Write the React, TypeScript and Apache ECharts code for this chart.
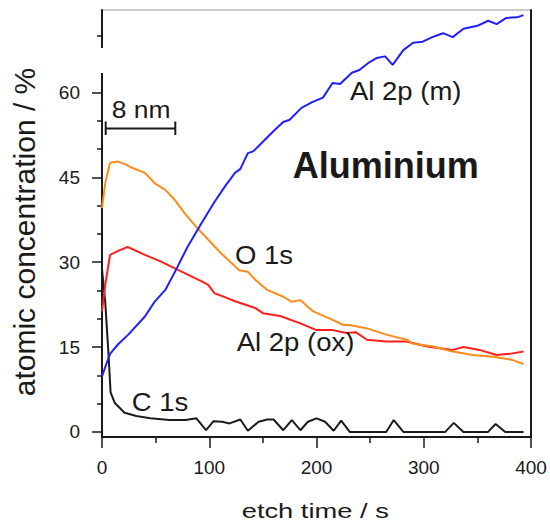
import React, { useEffect, useRef } from 'react';
import * as echarts from 'echarts';

// ---- axis ticks ----
const xMin = 0;
const xMax = 400;
const xInterval = 100;
const yMin = -0.9;
const yMax = 74.6;
const yLabelValues = [0, 15, 30, 45, 60];
const yMinorValues = [5, 10, 20, 25, 35, 40, 50, 55, 65, 70];

// ---- Al 2p (m) : blue ----
const alMetalTime = [0, 4, 7.5, 15, 24.5, 40, 49, 59, 68, 80, 93, 105, 115, 124, 129, 136, 141, 150, 160, 169, 175, 186, 196, 206, 215, 222, 233, 240, 248, 256, 264, 271, 281, 290, 299, 308, 318, 327, 337, 350, 360, 368, 377, 387, 393];
const alMetalConc = [9.8, 12, 13.8, 15.5, 17.2, 20.4, 23, 25.1, 28.3, 32.8, 37, 40.7, 43.5, 45.8, 46.5, 49.3, 49.6, 51.3, 53.2, 54.8, 55.2, 57.3, 58.3, 59.1, 61.7, 61.5, 63.5, 64, 65.2, 66.1, 66.4, 64.9, 67.5, 68.8, 69, 69.8, 70.5, 69.8, 71.3, 71.8, 72.7, 72.1, 73.2, 73.3, 73.7];

// ---- O 1s : orange ----
const oxygenTime = [0, 3, 7.5, 15, 22, 28, 40, 49, 59, 68, 77, 89, 102, 111, 120, 128, 136, 143, 154, 169, 177, 185, 197, 215, 225, 231, 247, 265, 284, 290, 309, 327, 346, 365, 383, 393];
const oxygenConc = [39.6, 44, 47.6, 47.8, 47.3, 46.7, 45.8, 44, 42.8, 41, 38.7, 36, 33.4, 31.6, 30, 28.6, 28.3, 26.9, 25.1, 23.9, 23.0, 23.3, 21.3, 19.8, 18.9, 18.9, 18.3, 17.2, 16.3, 15.6, 15.1, 14.2, 13.6, 13.3, 12.7, 12.0];

// ---- Al 2p (ox) : red ----
const alOxideTime = [0, 3, 7.5, 15, 24, 40, 55, 68, 80, 93, 99, 105, 115, 124, 143, 150, 166, 185, 200, 215, 228, 237, 247, 265, 284, 303, 327, 337, 352, 368, 380, 393];
const alOxideConc = [21.3, 26, 31.3, 32, 32.7, 31.3, 30.1, 28.9, 27.8, 26.6, 26, 24.5, 23.8, 23.1, 21.9, 21.0, 20.5, 19.2, 18.0, 18.0, 17.5, 17.6, 16.3, 16.0, 16.0, 15.1, 14.5, 15.0, 14.5, 13.6, 13.8, 14.2];

// ---- C 1s : black ----
const carbonTime = [0, 3, 6, 8, 12, 21, 32, 45, 63, 78, 88, 97, 104, 112, 119, 129, 136, 146, 154, 160, 169, 177, 185, 192, 200, 208, 216, 223, 231, 265, 272, 281, 320, 328, 337, 360, 367, 376, 393];
const carbonConc = [28.8, 23, 14, 7, 5.1, 3.4, 2.8, 2.4, 2.1, 2.1, 2.4, 0.3, 1.9, 1.8, 1.5, 2.2, 0.2, 1.8, 2.2, 2.2, 0.3, 2.1, 0.3, 1.8, 2.4, 1.8, 0.2, 2.0, 0, 0, 2.1, 0, 0, 1.6, 0, 0, 1.4, 0, 0];

const FONT = '"Liberation Sans", Arial, Helvetica, sans-serif';
const INK = '#1a1a1a';

function zip(t: number[], v: number[]) {
  return t.map((x, i) => [x, v[i]]);
}

function label(text: string, x: number, y: number, size: number, scaleX = 1, bold = false) {
  return {
    type: 'text',
    x,
    y,
    scaleX,
    z: 100,
    style: {
      text,
      fill: INK,
      fontSize: size,
      fontFamily: FONT,
      fontWeight: bold ? 'bold' : 'normal',
      align: 'left',
      textAlign: 'left',
      verticalAlign: 'middle',
      textVerticalAlign: 'middle',
    },
  };
}

export default function App() {
  const ref = useRef<HTMLDivElement>(null);

  useEffect(() => {
    if (!ref.current) return;
    const chart = echarts.init(ref.current, null, { renderer: 'svg' });
    const lineSeries = (name: string, t: number[], v: number[], color: string) => ({
      name,
      type: 'line',
      data: zip(t, v),
      showSymbol: false,
      symbol: 'none',
      smooth: false,
      lineStyle: { color, width: 2 },
      itemStyle: { color },
      z: 5,
    });

    chart.setOption({
      animation: false,
      backgroundColor: '#ffffff',
      grid: {
        left: 102,
        right: 19,
        top: 10,
        bottom: 86,
        show: true,
        borderColor: '#9a9a9a',
        borderWidth: 1,
        backgroundColor: 'transparent',
      },
      xAxis: {
        type: 'value',
        min: xMin,
        max: xMax,
        interval: xInterval,
        axisLine: { show: true, onZero: false, lineStyle: { color: INK, width: 2 } },
        axisTick: { show: true, length: 11, lineStyle: { color: INK, width: 1.5 } },
        minorTick: { show: true, splitNumber: 2, length: 6, lineStyle: { color: INK, width: 1.5 } },
        axisLabel: { fontSize: 19, color: INK, margin: 21, fontFamily: FONT },
        splitLine: { show: false },
        minorSplitLine: { show: false },
      },
      yAxis: [
        {
          type: 'value',
          min: yMin,
          max: yMax,
          position: 'left',
          axisLine: { show: true, onZero: false, lineStyle: { color: INK, width: 2 } },
          axisTick: { show: true, length: 10, customValues: yLabelValues, lineStyle: { color: INK, width: 1.5 } },
          axisLabel: { show: true, customValues: yLabelValues, fontSize: 19, color: INK, margin: 22, fontFamily: FONT },
          splitLine: { show: false },
        },
        {
          type: 'value',
          min: yMin,
          max: yMax,
          position: 'left',
          axisLine: { show: false },
          axisTick: { show: true, length: 5, customValues: yMinorValues, lineStyle: { color: INK, width: 1.5 } },
          axisLabel: { show: false },
          splitLine: { show: false },
        },
        {
          type: 'value',
          min: yMin,
          max: yMax,
          position: 'right',
          axisLine: { show: true, onZero: false, lineStyle: { color: INK, width: 2 } },
          axisTick: { show: false },
          axisLabel: { show: false },
          splitLine: { show: false },
        },
      ],
      series: [
        lineSeries('C 1s', carbonTime, carbonConc, '#1c1c1c'),
        lineSeries('Al 2p (ox)', alOxideTime, alOxideConc, '#ff1e1e'),
        lineSeries('O 1s', oxygenTime, oxygenConc, '#ff8c1a'),
        lineSeries('Al 2p (m)', alMetalTime, alMetalConc, '#1f1fff'),
      ],
      graphic: [
        // break in the left axis
        { type: 'rect', z: 100, shape: { x: 90, y: 48, width: 18, height: 25 }, style: { fill: '#ffffff' } },
        // scale bar
        { type: 'line', z: 100, shape: { x1: 105.7, y1: 128.5, x2: 175.3, y2: 128.5 }, style: { stroke: INK, lineWidth: 2 } },
        { type: 'line', z: 100, shape: { x1: 105.7, y1: 121.5, x2: 105.7, y2: 135 }, style: { stroke: INK, lineWidth: 2 } },
        { type: 'line', z: 100, shape: { x1: 175.3, y1: 121.5, x2: 175.3, y2: 135 }, style: { stroke: INK, lineWidth: 2 } },
        label('8 nm', 111.7, 110, 23, 1.15),
        label('Al 2p (m)', 350, 91, 25, 1.1),
        label('Aluminium', 292.7, 165.4, 36, 1, true),
        label('O 1s', 235, 255.4, 25, 1.1),
        label('Al 2p (ox)', 236.7, 342.5, 25, 1.1),
        label('C 1s', 131.7, 402.5, 25, 1.1),
        label('etch time / s', 241.7, 511, 21, 1.3),
        {
          type: 'text',
          x: 24,
          y: 232,
          rotation: Math.PI / 2,
          z: 100,
          style: {
            text: 'atomic concentration / %',
            fill: INK,
            fontSize: 30,
            fontFamily: FONT,
            align: 'center',
            textAlign: 'center',
            verticalAlign: 'middle',
            textVerticalAlign: 'middle',
          },
        },
      ],
    });

    return () => {
      chart.dispose();
    };
  }, []);

  return (
    <div
      ref={ref}
      style={{ position: 'fixed', left: 0, top: 0, width: 550, height: 523, background: '#fff' }}
    />
  );
}
